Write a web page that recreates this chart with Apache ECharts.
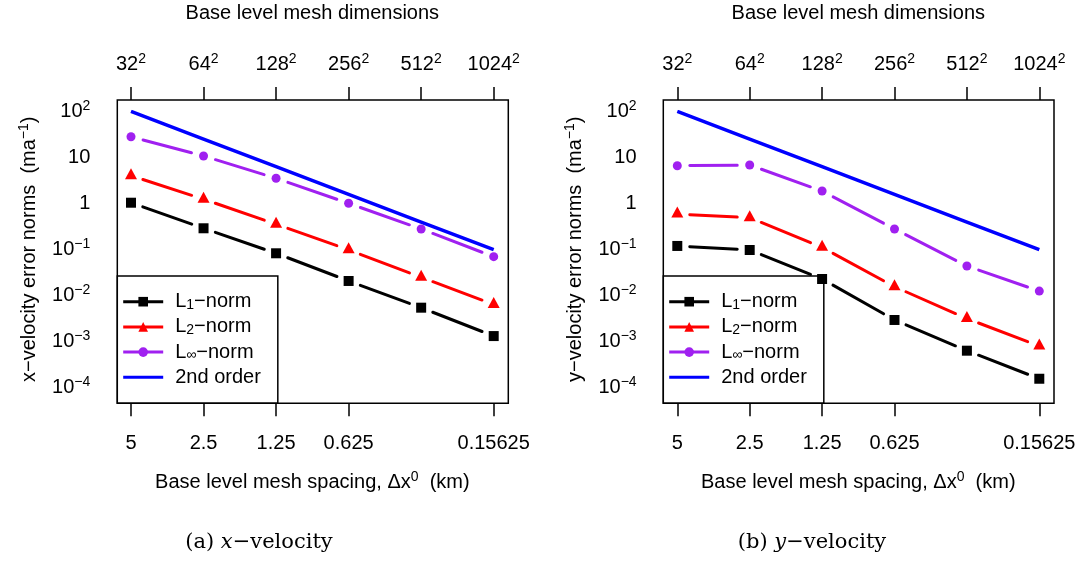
<!DOCTYPE html>
<html>
<head>
<meta charset="utf-8">
<script src="https://cdn.jsdelivr.net/npm/echarts@6/dist/echarts.min.js"></script>
<style>html,body{margin:0;padding:0;background:#fff}#c{width:1084px;height:561px}</style>
</head>
<body>
<div id="c"></div>
<script>
// ---- data ----
const spacingLabels = ['5', '2.5', '1.25', '0.625', '0.3125', '0.15625'];
const meshLabels = ['32', '64', '128', '256', '512', '1024'];
const hiddenSpacingLabel = 4; // 0.3125 label not printed in the original
const yTickExponents = [-4, -3, -2, -1, 0, 1, 2];

const xVelL1   = [1.03, 0.286, 0.0817, 0.0204, 0.00535, 0.00129];
const xVelL2   = [4.0, 1.23, 0.35, 0.097, 0.0245, 0.0063];
const xVelLinf = [28.1, 10.7, 3.5, 1.0, 0.276, 0.0689];

const yVelL1   = [0.118, 0.0964, 0.0225, 0.00289, 0.00062, 0.000152];
const yVelL2   = [0.585, 0.486, 0.110, 0.0153, 0.0031, 0.00078];
const yVelLinf = [6.58, 6.8, 1.85, 0.276, 0.0432, 0.0123];

const secondOrder = [100, 25, 6.25, 1.5625, 0.390625, 0.09765625];

const seriesNames = ['L1-norm', 'L2-norm', 'Linf-norm', '2nd order'];
// ---- styling ----
const FONT = 'Liberation Sans, Arial, Helvetica, sans-serif';
const FS = 20;
const C_L1 = '#000000', C_L2 = '#FF0000', C_LINF = '#A020F0', C_2ND = '#0000FF';

const supRich = {
  sup: { fontSize: 14, lineHeight: 12, verticalAlign: 'top', fontFamily: FONT, color: '#000' },
  n: { fontSize: FS, lineHeight: 24, fontFamily: FONT, color: '#000' }
};

function yLabel(v) {
  const e = Math.round(Math.log10(v));
  if (yTickExponents.indexOf(e) < 0) return '';
  if (e === 0) return '1';
  if (e === 1) return '10';
  return '10{sup|' + (e < 0 ? '\u2212' + (-e) : e) + '}';
}

function segRender(color) {
  return function (params, api) {
    const a = api.coord([api.value(0), api.value(1)]);
    const b = api.coord([api.value(2), api.value(3)]);
    const dx = b[0] - a[0], dy = b[1] - a[1];
    const L = Math.sqrt(dx * dx + dy * dy);
    const ux = dx / L, uy = dy / L, g = 12.5;
    return {
      type: 'line',
      shape: { x1: a[0] + ux * g, y1: a[1] + uy * g, x2: b[0] - ux * g, y2: b[1] - uy * g },
      style: { stroke: color, lineWidth: 3, lineCap: 'round' }
    };
  };
}
function segData(vals) {
  const out = [];
  for (let i = 0; i < vals.length - 1; i++) out.push([i, vals[i], i + 1, vals[i + 1]]);
  return out;
}

const PANELS = [
  { dataLeft: 131, dataWidth: 362.7, frameLeft: 117.3, frameWidth: 391, yName: 'x\u2212velocity error norms  (ma{sup|\u22121})',
    l1: xVelL1, l2: xVelL2, linf: xVelLinf },
  { dataLeft: 677.3, dataWidth: 362, frameLeft: 663.3, frameWidth: 390.7, yName: 'y\u2212velocity error norms  (ma{sup|\u22121})',
    l1: yVelL1, l2: yVelL2, linf: yVelLinf }
];
const DATA_TOP = 111.4, DATA_H = 275.7, FRAME_TOP = 100, FRAME_H = 303.3;

const grid = [], xAxis = [], yAxis = [], series = [], legend = [];
PANELS.forEach((p, k) => {
  const gData = grid.length;
  grid.push({ left: p.dataLeft, top: DATA_TOP, width: p.dataWidth, height: DATA_H, containLabel: false });
  const gFrame = grid.length;
  grid.push({ left: p.frameLeft, top: FRAME_TOP, width: p.frameWidth, height: FRAME_H, show: true,
    borderColor: '#000', borderWidth: 1.5, backgroundColor: 'transparent' });

  const xb = xAxis.length;
  xAxis.push({
    type: 'category', gridIndex: gData, data: spacingLabels, boundaryGap: false, position: 'bottom', offset: 16.2,
    axisLine: { show: false }, axisTick: { length: 13, lineStyle: { color: '#000', width: 1.5 } },
    axisLabel: { interval: (i) => i !== hiddenSpacingLabel, margin: 30, fontSize: FS, color: '#000', fontFamily: FONT },
    name: 'Base level mesh spacing, \u0394x{sup|0}  (km)', nameLocation: 'middle', nameGap: 67,
    nameTextStyle: { fontSize: FS, color: '#000', fontFamily: FONT, lineHeight: 24, rich: supRich },
    splitLine: { show: false }
  });
  xAxis.push({
    type: 'category', gridIndex: gData, data: meshLabels, boundaryGap: false, position: 'top', offset: 11.4,
    axisLine: { show: false }, axisTick: { length: 13, lineStyle: { color: '#000', width: 1.5 } },
    axisLabel: { interval: 0, margin: 24, fontSize: FS, color: '#000', fontFamily: FONT, lineHeight: 24,
      formatter: (v) => v + '{sup|2}', rich: supRich },
    name: 'Base level mesh dimensions', nameLocation: 'middle', nameGap: 77,
    nameTextStyle: { fontSize: FS, color: '#000', fontFamily: FONT },
    splitLine: { show: false }
  });
  xAxis.push({ type: 'value', gridIndex: gFrame, show: false });

  const yb = yAxis.length;
  yAxis.push({
    type: 'log', logBase: 10, gridIndex: gData, min: 1e-4, max: 100, offset: 13.7,
    axisLine: { show: false }, axisTick: { length: 13, lineStyle: { color: '#000', width: 1.5 } },
    axisLabel: { margin: 27, fontSize: FS, color: '#000', fontFamily: FONT, lineHeight: 24, formatter: yLabel, rich: supRich },
    splitLine: { show: false },
    name: p.yName, nameLocation: 'middle', nameRotate: 90, nameGap: 76,
    nameTextStyle: { fontSize: FS, color: '#000', fontFamily: FONT, lineHeight: 24, rich: supRich }
  });
  yAxis.push({ type: 'value', gridIndex: gFrame, show: false });

  const tagged = [[p.l1, C_L1, 'rect', 10, [0, 0]], [p.l2, C_L2, 'triangle', [12, 11], [0, -2]], [p.linf, C_LINF, 'circle', 9, [0, 0]]];
  tagged.forEach(([vals, col, sym, size, off], j) => {
    series.push({
      type: 'custom', name: seriesNames[j] + ' segments ' + k, xAxisIndex: xb, yAxisIndex: yb,
      dimensions: ['x0', 'y0', 'x1', 'y1'], encode: { x: [0, 2], y: [1, 3] },
      data: segData(vals), renderItem: segRender(col), z: 5, silent: true
    });
    series.push({
      type: 'line', name: seriesNames[j], xAxisIndex: xb, yAxisIndex: yb, data: vals,
      symbol: sym, symbolSize: size, symbolOffset: off, showSymbol: true,
      lineStyle: { width: 3, color: col, opacity: 0 }, itemStyle: { color: col }, z: 6, silent: true
    });
  });
  series.push({
    type: 'line', name: seriesNames[3], xAxisIndex: xb, yAxisIndex: yb, data: secondOrder,
    symbol: 'none', lineStyle: { width: 3.5, color: C_2ND }, z: 5, silent: true
  });

  legend.push({
    orient: 'vertical', left: p.frameLeft, top: 276,
    backgroundColor: '#fff', borderColor: '#000', borderWidth: 1.5, borderRadius: 0,
    padding: [15.7, 17, 15.7, 4.4], itemGap: 5.2, itemWidth: 40, itemHeight: 12,
    lineStyle: { opacity: 1, width: 3 },
    data: [
      { name: seriesNames[0] }, { name: seriesNames[1] }, { name: seriesNames[2] },
      { name: seriesNames[3], itemStyle: { opacity: 0 } }
    ],
    formatter: (name) => {
      if (name === 'L1-norm') return '{sp|}{n|L}{sub|1}{n|\u2212norm}';
      if (name === 'L2-norm') return '{sp|}{n|L}{sub|2}{n|\u2212norm}';
      if (name === 'Linf-norm') return '{sp|}{n|L}{sub|\u221e}{n|\u2212norm}';
      return '{sp|}{n|' + name + '}';
    },
    textStyle: {
      fontSize: FS, color: '#000', fontFamily: FONT,
      rich: {
        sp: { width: 7 },
        n: { fontSize: FS, lineHeight: 20, fontFamily: FONT, color: '#000' },
        sub: { fontSize: 14, lineHeight: 11, verticalAlign: 'bottom', fontFamily: FONT, color: '#000' }
      }
    },
    selectedMode: false, z: 3
  });
});

const capRich = {
  n: { fontSize: 21, fontFamily: 'DejaVu Serif, Liberation Serif, serif', fill: '#000' },
  i: { fontSize: 21, fontFamily: 'DejaVu Serif, Liberation Serif, serif', fontStyle: 'italic', fill: '#000' }
};

const option = {
  animation: false,
  backgroundColor: '#fff',
  textStyle: { fontFamily: FONT },
  grid, xAxis, yAxis, series, legend,
  graphic: [
    { type: 'text', x: 259, y: 543, style: { text: '{n|(a) }{i|x}{n|\u2212velocity}', rich: capRich, align: 'center', verticalAlign: 'middle' } },
    { type: 'text', x: 812, y: 543, style: { text: '{n|(b) }{i|y}{n|\u2212velocity}', rich: capRich, align: 'center', verticalAlign: 'middle' } }
  ]
};

const chart = echarts.init(document.getElementById('c'), null, { renderer: 'canvas' });
chart.setOption(option);
</script>
</body>
</html>
